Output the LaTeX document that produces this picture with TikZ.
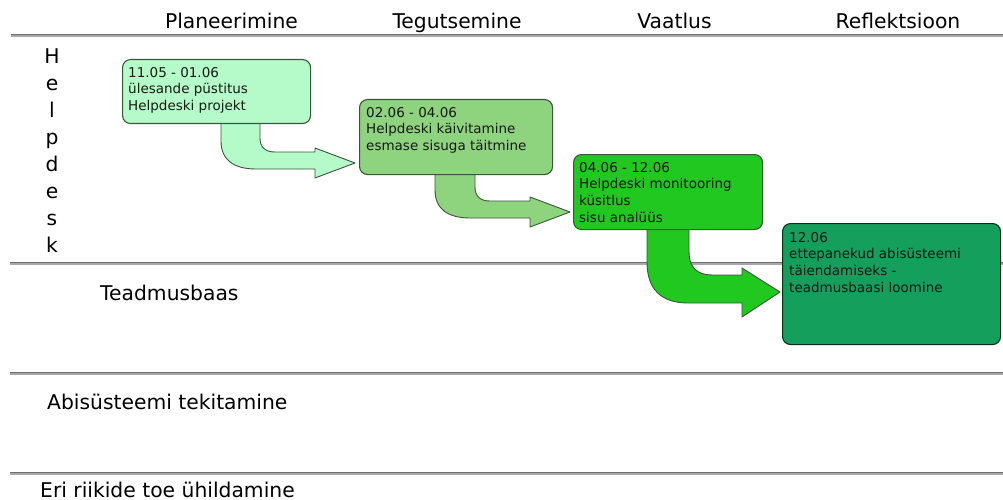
\documentclass[tikz,border=0pt]{standalone}
\usepackage{fontspec}
\setmainfont{DejaVu Sans}
\usetikzlibrary{calc}

\definecolor{mint}{HTML}{B5FBCA}
\definecolor{midgreen}{HTML}{8ED37E}
\definecolor{brightgreen}{HTML}{20C820}
\definecolor{deepgreen}{HTML}{14A05C}
\definecolor{edgegreen}{HTML}{3A553A}
\definecolor{ruledark}{HTML}{6E6E6E}
\definecolor{rulelight}{HTML}{A8A8A8}

\tikzset{
  phasebox/.style={draw=edgegreen, line width=1.1pt, rounded corners=8pt,
                   inner sep=0pt, anchor=north west},
  boxtext/.style={inner sep=0pt, anchor=north west, align=left,
                  font=\fontsize{13.5}{16.6}\selectfont, text=black!90},
  header/.style={inner sep=0pt, anchor=base, font=\fontsize{20.3}{24}\selectfont},
  lanelabel/.style={inner sep=0pt, anchor=base west, font=\fontsize{20.3}{24}\selectfont},
  bent/.style={draw=edgegreen, line width=0.9pt, line join=round},
}

% horizontal separator: grey band with a darker top edge
\newcommand{\lanerule}[2]{%
  \draw[rulelight, line width=2.6pt] (#1,#2+0.6) -- (1003,#2+0.6);
  \draw[ruledark, line width=1pt] (#1,#2-0.5) -- (1003,#2-0.5);
}

\begin{document}
\begin{tikzpicture}[x=1pt,y=-1pt]
\useasboundingbox (0,0) rectangle (1003,500);

% phase headers
\node[header] (hplan) at (231.5,29) {Planeerimine};
\node[header] (htegu) at (457,29) {Tegutsemine};
\node[header] (hvaat) at (674.5,29) {Vaatlus};
\node[header] (hrefl) at (898,29) {Reflektsioon};

% lane separators
\lanerule{11}{35}
\lanerule{10}{263}
\lanerule{10}{373}
\lanerule{10}{473}

% lane labels
\node[inner sep=0pt, anchor=north, align=center,
      font=\fontsize{20.3}{27}\selectfont] (lhelp) at (52,48.5)
      {H\\e\\l\\p\\d\\e\\s\\k};
\node[lanelabel] (lteadm) at (100,300) {Teadmusbaas};
\node[lanelabel] (labi) at (47,409) {Abisüsteemi tekitamine};
\node[lanelabel] (leri) at (40,497) {Eri riikide toe ühildamine};

% bent block arrows between the phase boxes
\fill[mint] (221,121) -- (221,141) .. controls (221,160) and (234,169) .. (256,169)
  -- (315,169) -- (315,178) -- (355,163) -- (315,148) -- (315,152) -- (275,152)
  .. controls (265,152) and (260,147) .. (260,138) -- (260,121) -- cycle;
\draw[bent] (221,121) -- (221,141) .. controls (221,160) and (234,169) .. (256,169)
  -- (315,169) -- (315,178) -- (355,163) -- (315,148) -- (315,152) -- (275,152)
  .. controls (265,152) and (260,147) .. (260,138) -- (260,121);

\fill[midgreen] (435,172) -- (435,190) .. controls (435,209) and (448,218) .. (470,218)
  -- (530,218) -- (530,227) -- (570,212) -- (530,197) -- (530,201) -- (490,201)
  .. controls (480,201) and (475,196) .. (475,187) -- (475,172) -- cycle;
\draw[bent] (435,172) -- (435,190) .. controls (435,209) and (448,218) .. (470,218)
  -- (530,218) -- (530,227) -- (570,212) -- (530,197) -- (530,201) -- (490,201)
  .. controls (480,201) and (475,196) .. (475,187) -- (475,172);

\fill[brightgreen] (647,227) -- (647,262) .. controls (647,290) and (662,303) .. (688,303)
  -- (742,303) -- (742,317) -- (780,292) -- (742,268) -- (742,275) -- (712,275)
  .. controls (697,275) and (689,267) .. (689,252) -- (689,227) -- cycle;
\draw[bent] (647,227) -- (647,262) .. controls (647,290) and (662,303) .. (688,303)
  -- (742,303) -- (742,317) -- (780,292) -- (742,268) -- (742,275) -- (712,275)
  .. controls (697,275) and (689,267) .. (689,252) -- (689,227);

% phase boxes
\node[phasebox, fill=mint, minimum width=188pt, minimum height=64pt] (b1) at (122,59) {};
\node[boxtext] (t1) at ([xshift=6pt,yshift=-8pt]b1.north west)
  {11.05 - 01.06\\ülesande püstitus\\Helpdeski projekt};

\node[phasebox, fill=midgreen, minimum width=193pt, minimum height=75pt] (b2) at (359,99) {};
\node[boxtext] (t2) at ([xshift=7pt,yshift=-8pt]b2.north west)
  {02.06 - 04.06\\Helpdeski käivitamine\\esmase sisuga täitmine};

\node[phasebox, fill=brightgreen, minimum width=189pt, minimum height=75pt] (b3) at (573,154) {};
\node[boxtext] (t3) at ([xshift=6pt,yshift=-8pt]b3.north west)
  {04.06 - 12.06\\Helpdeski monitooring\\küsitlus\\sisu analüüs};

\node[phasebox, fill=deepgreen, draw=black!70!deepgreen, minimum width=218pt, minimum height=121pt] (b4) at (782,223) {};
\node[boxtext] (t4) at ([xshift=7pt,yshift=-9pt]b4.north west)
  {12.06\\ettepanekud abisüsteemi\\täiendamiseks -\\teadmusbaasi loomine};

\end{tikzpicture}
\end{document}
